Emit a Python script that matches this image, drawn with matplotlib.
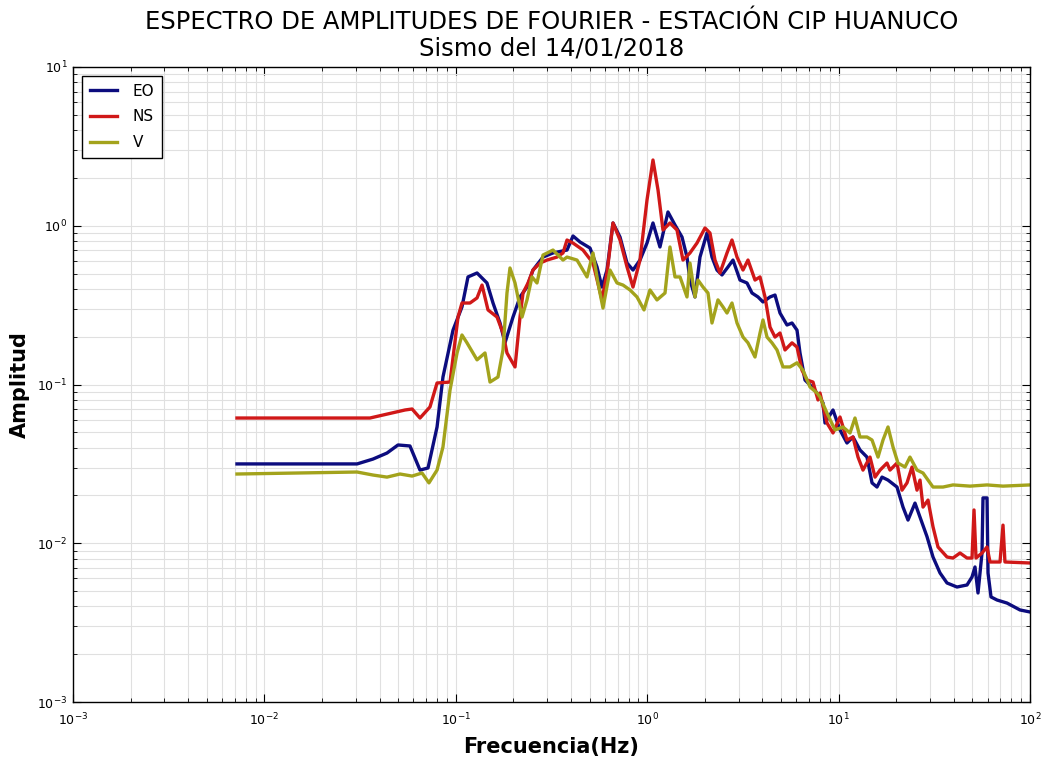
import matplotlib
matplotlib.use("Agg")
import matplotlib.pyplot as plt
from matplotlib.ticker import LogLocator, NullFormatter

# ---- data ----
eo_freq = [0.00719, 0.0305, 0.0369, 0.0437, 0.0499, 0.0576, 0.0650, 0.0716, 0.0798, 0.0857,
           0.0967, 0.1077, 0.1158, 0.1291, 0.1455, 0.1565, 0.1702, 0.1807, 0.1990, 0.2165,
           0.2355, 0.2531, 0.2855, 0.3220, 0.3811, 0.4097, 0.4457, 0.5026, 0.5467, 0.5803,
           0.6166, 0.6627, 0.7210, 0.7845, 0.8429, 0.9171, 0.9977, 1.072, 1.166, 1.284,
           1.397, 1.520, 1.614, 1.673, 1.777, 1.887, 2.053, 2.180, 2.315, 2.459,
           2.643, 2.807, 3.054, 3.322, 3.528, 3.793, 4.027, 4.382, 4.653, 4.941,
           5.375, 5.709, 6.063, 6.285, 6.675, 7.261, 7.711, 8.289, 8.491, 9.348,
           10.17, 11.06, 11.89, 12.93, 14.07, 14.95, 15.87, 16.86, 18.12, 20.19,
           21.70, 23.05, 25.07, 26.63, 28.97, 31.13, 33.87, 36.85, 41.55, 46.88,
           49.78, 51.60, 53.50, 56.13, 56.81, 59.63, 60.35, 62.56, 67.25, 75.84,
           88.67, 100.0]
eo_amp = [0.0316, 0.0316, 0.0339, 0.0370, 0.0416, 0.0410, 0.0289, 0.0298, 0.0540, 0.1115,
          0.220, 0.308, 0.476, 0.504, 0.436, 0.326, 0.244, 0.183, 0.266, 0.356,
          0.411, 0.526, 0.635, 0.674, 0.703, 0.862, 0.790, 0.724, 0.550, 0.411,
          0.526, 1.041, 0.849, 0.582, 0.526, 0.608, 0.778, 1.041, 0.735, 1.221,
          1.011, 0.849, 0.635, 0.455, 0.356, 0.635, 0.900, 0.635, 0.526, 0.490,
          0.550, 0.608, 0.455, 0.436, 0.377, 0.356, 0.331, 0.356, 0.366, 0.282,
          0.237, 0.244, 0.220, 0.158, 0.1067, 0.0965, 0.0884, 0.0765, 0.0572, 0.0691,
          0.0517, 0.0428, 0.0467, 0.0387, 0.0349, 0.0240, 0.0226, 0.0261, 0.0250, 0.0226,
          0.0169, 0.0140, 0.0179, 0.0146, 0.0110, 0.00819, 0.00650, 0.00562, 0.00530, 0.00546,
          0.00613, 0.00709, 0.00486, 0.00868, 0.0193, 0.0193, 0.00650, 0.00459, 0.00439, 0.00420,
          0.00380, 0.00369]

ns_freq = [0.00719, 0.0356, 0.0543, 0.0591, 0.0650, 0.0733, 0.0798, 0.0933, 0.1027, 0.1077,
           0.1186, 0.1291, 0.1371, 0.1473, 0.1642, 0.1764, 0.1851, 0.2039, 0.2165, 0.2245,
           0.2384, 0.2531, 0.2754, 0.2996, 0.3379, 0.3632, 0.3811, 0.4097, 0.4620, 0.5210,
           0.5803, 0.6166, 0.6627, 0.7210, 0.7845, 0.8429, 0.9171, 0.9977, 1.072, 1.139,
           1.209, 1.315, 1.431, 1.538, 1.673, 1.820, 2.004, 2.128, 2.260, 2.400,
           2.612, 2.773, 2.946, 3.166, 3.362, 3.658, 3.885, 4.126, 4.382, 4.653,
           4.941, 5.248, 5.709, 6.063, 6.438, 6.837, 7.348, 7.805, 7.995, 8.698,
           9.348, 10.17, 11.06, 11.89, 12.63, 13.41, 14.59, 15.50, 16.46, 17.90,
           18.56, 20.19, 21.44, 22.77, 24.18, 25.68, 26.63, 27.61, 29.32, 31.13,
           33.06, 36.85, 39.60, 43.08, 46.88, 49.78, 50.99, 52.23, 56.13, 59.63,
           61.81, 69.72, 72.27, 73.98, 100.0]
ns_amp = [0.0615, 0.0615, 0.0691, 0.0701, 0.0615, 0.0722, 0.1022, 0.1036, 0.266, 0.326,
          0.326, 0.351, 0.423, 0.295, 0.266, 0.211, 0.158, 0.129, 0.266, 0.377,
          0.436, 0.526, 0.582, 0.608, 0.635, 0.674, 0.813, 0.778, 0.703, 0.582,
          0.341, 0.504, 1.041, 0.813, 0.550, 0.411, 0.608, 1.453, 2.595, 1.680,
          0.940, 1.041, 0.940, 0.608, 0.674, 0.778, 0.968, 0.900, 0.608, 0.504,
          0.674, 0.813, 0.635, 0.526, 0.608, 0.455, 0.476, 0.356, 0.230, 0.199,
          0.211, 0.165, 0.183, 0.172, 0.123, 0.1067, 0.1036, 0.0799, 0.0884, 0.0572,
          0.0495, 0.0624, 0.0447, 0.0467, 0.0349, 0.0289, 0.0349, 0.0261, 0.0289, 0.0320,
          0.0289, 0.0320, 0.0216, 0.0240, 0.0302, 0.0216, 0.0250, 0.0169, 0.0187, 0.0127,
          0.00947, 0.00819, 0.00807, 0.00868, 0.00807, 0.00807, 0.0162, 0.00807, 0.00868, 0.00947,
          0.00762, 0.00762, 0.0130, 0.00762, 0.00751]

v_freq = [0.00719, 0.0305, 0.0369, 0.0437, 0.0511, 0.0591, 0.0666, 0.0724, 0.0798, 0.0857,
          0.0933, 0.1015, 0.1077, 0.1144, 0.1291, 0.1421, 0.1509, 0.1661, 0.1764, 0.1851,
          0.1919, 0.2039, 0.2218, 0.2355, 0.2501, 0.2656, 0.2855, 0.3220, 0.3632, 0.3811,
          0.4298, 0.4848, 0.5210, 0.5533, 0.5875, 0.6391, 0.6954, 0.7476, 0.8131, 0.8845,
          0.9623, 1.034, 1.125, 1.239, 1.315, 1.397, 1.484, 1.614, 1.673, 1.777,
          1.842, 1.957, 2.078, 2.180, 2.343, 2.489, 2.612, 2.773, 2.946, 3.166,
          3.362, 3.658, 3.885, 4.027, 4.226, 4.488, 4.767, 5.123, 5.573, 6.063,
          6.516, 7.088, 7.711, 7.995, 8.698, 9.576, 10.54, 11.47, 12.18, 12.93,
          14.07, 14.95, 16.07, 17.06, 18.12, 19.24, 20.43, 22.23, 23.60, 25.68,
          27.61, 29.32, 31.13, 35.12, 39.60, 48.60, 59.63, 72.27, 100.0]
v_amp = [0.0273, 0.0281, 0.0269, 0.0261, 0.0273, 0.0265, 0.0277, 0.0240, 0.0289, 0.0404,
         0.0923, 0.158, 0.205, 0.183, 0.143, 0.158, 0.1036, 0.1115, 0.165, 0.377,
         0.542, 0.436, 0.266, 0.341, 0.476, 0.436, 0.654, 0.703, 0.608, 0.635,
         0.608, 0.476, 0.674, 0.436, 0.303, 0.526, 0.436, 0.423, 0.394, 0.356,
         0.295, 0.394, 0.341, 0.377, 0.735, 0.476, 0.476, 0.356, 0.582, 0.356,
         0.455, 0.411, 0.377, 0.244, 0.341, 0.308, 0.282, 0.326, 0.244, 0.199,
         0.183, 0.149, 0.211, 0.255, 0.199, 0.183, 0.165, 0.129, 0.129, 0.137,
         0.123, 0.0965, 0.0884, 0.0834, 0.0661, 0.0517, 0.0540, 0.0495, 0.0615, 0.0467,
         0.0467, 0.0447, 0.0349, 0.0447, 0.0540, 0.0404, 0.0320, 0.0302, 0.0349, 0.0289,
         0.0277, 0.0250, 0.0226, 0.0226, 0.0233, 0.0229, 0.0233, 0.0229, 0.0233]

series_labels = ["EO", "NS", "V"]
title_text = "ESPECTRO DE AMPLITUDES DE FOURIER - ESTACIÓN CIP HUANUCO\nSismo del 14/01/2018"
xlabel_text = "Frecuencia(Hz)"
ylabel_text = "Amplitud"

# ---- figure ----
fig = plt.figure(figsize=(10.47, 7.6), dpi=100)
ax = fig.add_axes([73 / 1047, 1 - 702 / 760, (1030 - 73) / 1047, (702 - 67) / 760])

colors = ["#0c0c7e", "#d01818", "#a3a31c"]
for fx, ay, lab, c in zip([eo_freq, ns_freq, v_freq], [eo_amp, ns_amp, v_amp],
                          series_labels, colors):
    ax.plot(fx, ay, color=c, lw=2.4, label=lab)

ax.set_xscale("log")
ax.set_yscale("log")
ax.set_xlim(1e-3, 1e2)
ax.set_ylim(1e-3, 1e1)

ax.xaxis.set_major_locator(LogLocator(base=10, numticks=20))
ax.yaxis.set_major_locator(LogLocator(base=10, numticks=20))
ax.xaxis.set_minor_locator(LogLocator(base=10, subs=range(2, 10), numticks=100))
ax.yaxis.set_minor_locator(LogLocator(base=10, subs=range(2, 10), numticks=100))
ax.xaxis.set_minor_formatter(NullFormatter())
ax.yaxis.set_minor_formatter(NullFormatter())

ax.grid(True, which="both", color="#e0e0e0", lw=0.8, ls="-")
ax.set_axisbelow(True)
ax.tick_params(which="both", direction="in", top=True, right=True, labelsize=9)
ax.tick_params(axis="x", which="major", pad=7)
ax.tick_params(axis="y", which="major", pad=4)
ax.tick_params(which="major", length=6, width=0.8)
ax.tick_params(which="minor", length=3, width=0.6)
for s in ax.spines.values():
    s.set_linewidth(1.0)
    s.set_color("black")

ax.set_title(title_text, fontsize=17.5, linespacing=1.15, pad=8)
ax.set_xlabel(xlabel_text, fontsize=15, fontweight="bold", labelpad=6)
ax.set_ylabel(ylabel_text, fontsize=15, fontweight="bold", labelpad=5)

leg = ax.legend(loc="upper left", fontsize=11, fancybox=False, framealpha=1,
                edgecolor="black", handlelength=1.8, borderpad=0.5, labelspacing=0.7,
                handletextpad=1.0, borderaxespad=0.6)
leg.get_frame().set_linewidth(1.0)

fig.savefig("out.png", dpi=100, facecolor="white")
